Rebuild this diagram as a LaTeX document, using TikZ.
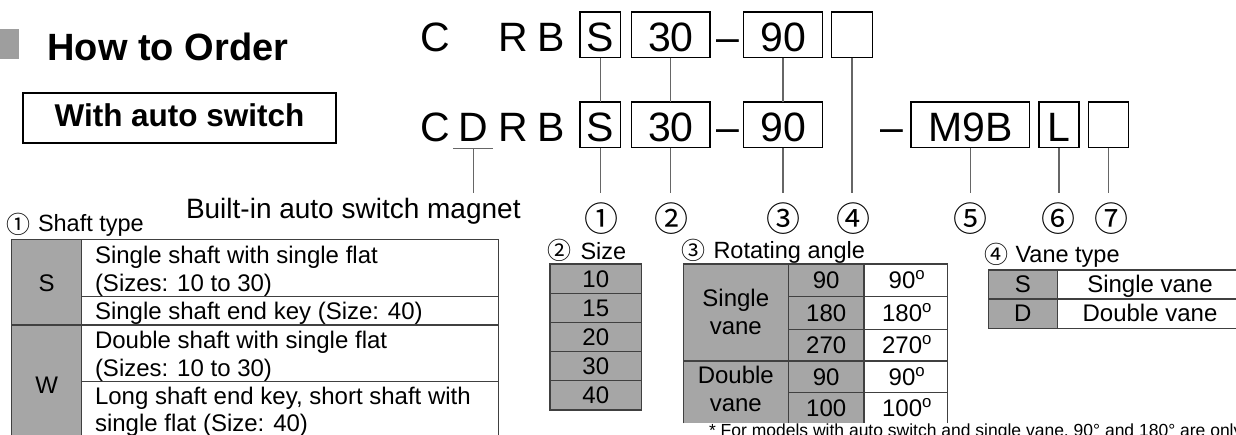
\documentclass[tikz,border=0pt]{standalone}
\usepackage{fontspec}
\setmainfont{Liberation Sans}
\newfontfamily\cjkfont{Noto Sans CJK JP}
\definecolor{cellgray}{gray}{0.65}
\definecolor{rulegray}{gray}{0.25}
\definecolor{conngray}{gray}{0.4}
\definecolor{headgray}{gray}{0.62}
\newcommand\codefont{\fontsize{41}{45}\selectfont}
\newcommand\cellfont{\fontsize{24}{28}\selectfont}
\newcommand\labfont{\fontsize{23.5}{28}\selectfont}
\newcommand\circbig{\cjkfont\fontsize{34}{36}\selectfont}
\newcommand\circsmall{\cjkfont\fontsize{24}{26}\selectfont}
\begin{document}
\begin{tikzpicture}[x=1pt,y=-1pt,
  every node/.style={inner sep=0pt, outer sep=0pt},
  tline/.style={draw=rulegray, line width=1.3pt},
  conn/.style={draw=conngray, line width=1.1pt},
  cbox/.style={draw=black, line width=1.5pt, font=\codefont, inner xsep=0pt, inner ysep=0pt, text height=39.5pt, text depth=6pt, anchor=base},
  ctext/.style={font=\codefont, anchor=base west},
  cell/.style={font=\cellfont, anchor=base},
  celll/.style={font=\cellfont, anchor=base west},
  lab/.style={font=\labfont, anchor=base west},
  cnum/.style={font=\circbig, anchor=center},
  snum/.style={font=\circsmall, anchor=west}]
\useasboundingbox (0,0) rectangle (1236,434);
\clip (0,0) rectangle (1236,434);

% heading
\fill[headgray] (0,29) rectangle (19,59);
\node[font=\fontsize{38}{40}\selectfont\bfseries, anchor=base west] (title) at (47.5,60) {How to Order};
\node[draw=black, line width=1.3pt, font=\fontsize{31.5}{34}\selectfont\bfseries, minimum width=313pt, text height=33pt, text depth=17pt, anchor=base] (with) at (179.5,126) {With auto switch};

% row 1
\node[ctext] (c1) at (420,51.5) {C};
\node[ctext] (r1) at (498.4,51.5) {R};
\node[ctext] (bb1) at (537,51.5) {B};
\node[cbox, minimum width=40.7pt] (a1) at (600.3,51.5) {S};
\node[cbox, minimum width=78.3pt] (a2) at (670.8,51.5) {30};
\node[font=\codefont, anchor=base] (d1) at (727.5,51.5) {–};
\node[cbox, minimum width=79.4pt] (a3) at (783,51.5) {90};
\node[cbox, minimum width=40.6pt] (a4) at (852,51.5) {};

% row 2
\node[ctext] (c2) at (420,141.5) {C};
\node[ctext] (D) at (458.5,141.5) {D};
\node[ctext] (r2) at (498.4,141.5) {R};
\node[ctext] (bb2) at (537,141.5) {B};
\node[cbox, minimum width=40.7pt] (b1) at (600.3,141.5) {S};
\node[cbox, minimum width=78.3pt] (b2) at (670.8,141.5) {30};
\node[font=\codefont, anchor=base] (d2) at (727.5,141.5) {–};
\node[cbox, minimum width=79.4pt] (b3) at (783,141.5) {90};
\node[font=\codefont, anchor=base] (d3) at (892.2,141.5) {–};
\node[cbox, minimum width=118.3pt] (b5) at (970.2,141.5) {M9B};
\node[cbox, minimum width=40pt] (b6) at (1059,141.5) {L};
\node[cbox, minimum width=40pt] (b7) at (1108.7,141.5) {};

% connectors
\coordinate (ybot) at (0,193.3);
\coordinate (ul1) at (453,148.3);
\coordinate (ul2) at (492.7,148.3);
\draw[conn] (a1.south) -- (b1.north);
\draw[conn] (a2.south) -- (b2.north);
\draw[conn] (a3.south) -- (b3.north);
\draw[conn] (a4.south) -- (a4.south |- ybot);
\draw[conn] (b1.south) -- (b1.south |- ybot);
\draw[conn] (b2.south) -- (b2.south |- ybot);
\draw[conn] (b3.south) -- (b3.south |- ybot);
\draw[conn] (b5.south) -- (b5.south |- ybot);
\draw[conn] (b6.south) -- (b6.south |- ybot);
\draw[conn] (b7.south) -- (b7.south |- ybot);
\draw[conn] (ul1) -- (ul2);
\draw[conn] (D.south |- ul1) -- (D.south |- ybot);

% circled numbers
\node[cnum] (n1) at (601.7,219) {①};
\node[cnum] (n2) at (671.7,219) {②};
\node[cnum] (n3) at (783.3,219) {③};
\node[cnum] (n4) at (853,219) {④};
\node[cnum] (n5) at (970,219) {⑤};
\node[cnum] (n6) at (1058,219) {⑥};
\node[cnum] (n7) at (1111.7,219) {⑦};

\node[font=\fontsize{28}{30}\selectfont, anchor=base west] (magnet) at (186,218) {Built-in auto switch magnet};

% table 1: shaft type
\node[snum] (l1n) at (6,224) {①};
\node[lab] (l1) at (38,231.7) {Shaft type};
\fill[cellgray] (11.7,239.3) rectangle (81.7,440);
\draw[tline] (11.7,440) -- (11.7,239.3) -- (498.3,239.3) -- (498.3,440);
\draw[tline] (81.7,239.3) -- (81.7,440);
\draw[tline] (81.7,296.7) -- (498.3,296.7);
\draw[tline] (11.7,325) -- (498.3,325);
\draw[tline] (81.7,381.7) -- (498.3,381.7);
\node[cell] (t1s) at (46.7,291.7) {S};
\node[cell] (t1w) at (46.7,393.3) {W};
\node[celll] (t1a) at (95,263.3) {Single shaft with single flat};
\node[celll] (t1b) at (95,291.7) {(Sizes: 10 to 30)};
\node[celll] (t1c) at (95,319) {Single shaft end key (Size: 40)};
\node[celll] (t1d) at (95,348.3) {Double shaft with single flat};
\node[celll] (t1e) at (95,376) {(Sizes: 10 to 30)};
\node[celll] (t1f) at (95,404) {Long shaft end key, short shaft with};
\node[celll] (t1g) at (95,431.7) {single flat (Size: 40)};

% table 2: size
\node[snum] (l2n) at (547.5,250.5) {②};
\node[lab] (l2) at (580.5,259.3) {Size};
\fill[cellgray] (550,264) rectangle (641.7,410);
\draw[tline] (550,264) rectangle (641.7,410);
\foreach \yy in {293.3,322.7,351.7,380.7} \draw[tline] (550,\yy) -- (641.7,\yy);
\node[cell] (s10) at (595.8,287.3) {10};
\node[cell] (s15) at (595.8,316.6) {15};
\node[cell] (s20) at (595.8,345.8) {20};
\node[cell] (s30) at (595.8,374.8) {30};
\node[cell] (s40) at (595.8,403.9) {40};

% table 3: rotating angle
\node[snum] (l3n) at (681,250) {③};
\node[lab] (l3) at (713.5,258.3) {Rotating angle};
\fill[cellgray] (683.3,264) rectangle (864,423.3);
\draw[tline] (683.3,423.3) -- (683.3,264) -- (947.3,264) -- (947.3,423.3);
\draw[tline] (788.3,264) -- (788.3,423.3);
\draw[tline] (864,264) -- (864,423.3);
\foreach \yy in {296.7,329.3,392.7} \draw[tline] (788.3,\yy) -- (947.3,\yy);
\draw[tline] (683.3,361) -- (947.3,361);
\node[cell] (sv1) at (735.8,306.7) {Single};
\node[cell] (sv2) at (735.8,334) {vane};
\node[cell] (dv1) at (735.8,383.3) {Double};
\node[cell] (dv2) at (735.8,411.5) {vane};
\node[cell] (r90) at (826.2,288.9) {90};
\node[cell] (r180) at (826.2,321.6) {180};
\node[cell] (r270) at (826.2,353.8) {270};
\node[cell] (r90b) at (826.2,385.4) {90};
\node[cell] (r100) at (826.2,416.6) {100};
\node[cell] (g90) at (907,288.9) {90\textsuperscript{o}};
\node[cell] (g180) at (907,321.6) {180\textsuperscript{o}};
\node[cell] (g270) at (907,353.8) {270\textsuperscript{o}};
\node[cell] (g90b) at (907,385.4) {90\textsuperscript{o}};
\node[cell] (g100) at (907,416.6) {100\textsuperscript{o}};

% table 4: vane type
\node[snum] (l4n) at (984,254) {④};
\node[lab] (l4) at (1015.5,262.7) {Vane type};
\fill[cellgray] (988.3,270) rectangle (1057.3,328.3);
\draw[tline] (1243,270) -- (988.3,270) -- (988.3,328.3) -- (1243,328.3);
\draw[tline] (988.3,299) -- (1243,299);
\draw[tline] (1057.3,270) -- (1057.3,328.3);
\node[cell] (vs) at (1022.8,292) {S};
\node[cell] (vd) at (1022.8,321) {D};
\node[cell] (vsn) at (1150,292) {Single vane};
\node[cell] (vdn) at (1150,321) {Double vane};

% footnote
\node[font=\fontsize{17.5}{20}\selectfont, anchor=base west] (foot) at (709,436.5) {* For models with auto switch and single vane, 90° and 180° are only available.};
\end{tikzpicture}
\end{document}
